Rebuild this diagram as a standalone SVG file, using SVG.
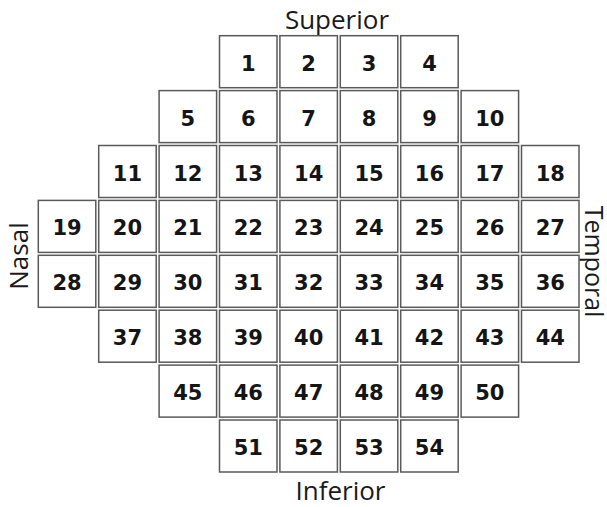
<svg xmlns="http://www.w3.org/2000/svg" width="607" height="507" viewBox="0 0 607 507">
<style>
.cell rect{fill:#fff;stroke:#5a5a5a;stroke-width:1.5}
.cell text{font-family:"DejaVu Sans",Verdana,sans-serif;font-weight:bold;font-size:21px;fill:#151515;text-anchor:middle}
.lbl{font-family:"Open Sans","DejaVu Sans",sans-serif;font-size:26px;fill:#1a1a1a;text-anchor:middle}
</style>
<rect width="607" height="507" fill="#fff"/>
<g id="labels">
<text class="lbl" x="337" y="28.5">Superior</text>
<text class="lbl" x="340.5" y="499.5">Inferior</text>
<text class="lbl" transform="translate(28,256) rotate(-90)">Nasal</text>
<text class="lbl" style="font-size:25px" transform="translate(585,261.5) rotate(90)">Temporal</text>
</g>
<g id="cells">
<g id="c1" class="cell"><rect x="219.5" y="35.7" width="57.5" height="52"/><text x="248.25" y="70.7">1</text></g>
<g id="c2" class="cell"><rect x="279.9" y="35.7" width="57.5" height="52"/><text x="308.65" y="70.7">2</text></g>
<g id="c3" class="cell"><rect x="340.3" y="35.7" width="57.5" height="52"/><text x="369.05" y="70.7">3</text></g>
<g id="c4" class="cell"><rect x="400.7" y="35.7" width="57.5" height="52"/><text x="429.45" y="70.7">4</text></g>

<g id="c5" class="cell"><rect x="159.1" y="90.6" width="57.5" height="52"/><text x="187.85" y="125.6">5</text></g>
<g id="c6" class="cell"><rect x="219.5" y="90.6" width="57.5" height="52"/><text x="248.25" y="125.6">6</text></g>
<g id="c7" class="cell"><rect x="279.9" y="90.6" width="57.5" height="52"/><text x="308.65" y="125.6">7</text></g>
<g id="c8" class="cell"><rect x="340.3" y="90.6" width="57.5" height="52"/><text x="369.05" y="125.6">8</text></g>
<g id="c9" class="cell"><rect x="400.7" y="90.6" width="57.5" height="52"/><text x="429.45" y="125.6">9</text></g>
<g id="c10" class="cell"><rect x="461.1" y="90.6" width="57.5" height="52"/><text x="489.85" y="125.6">10</text></g>

<g id="c11" class="cell"><rect x="98.7" y="145.5" width="57.5" height="52"/><text x="127.45" y="180.5">11</text></g>
<g id="c12" class="cell"><rect x="159.1" y="145.5" width="57.5" height="52"/><text x="187.85" y="180.5">12</text></g>
<g id="c13" class="cell"><rect x="219.5" y="145.5" width="57.5" height="52"/><text x="248.25" y="180.5">13</text></g>
<g id="c14" class="cell"><rect x="279.9" y="145.5" width="57.5" height="52"/><text x="308.65" y="180.5">14</text></g>
<g id="c15" class="cell"><rect x="340.3" y="145.5" width="57.5" height="52"/><text x="369.05" y="180.5">15</text></g>
<g id="c16" class="cell"><rect x="400.7" y="145.5" width="57.5" height="52"/><text x="429.45" y="180.5">16</text></g>
<g id="c17" class="cell"><rect x="461.1" y="145.5" width="57.5" height="52"/><text x="489.85" y="180.5">17</text></g>
<g id="c18" class="cell"><rect x="521.5" y="145.5" width="57.5" height="52"/><text x="550.25" y="180.5">18</text></g>

<g id="c19" class="cell"><rect x="38.3" y="200.4" width="57.5" height="52"/><text x="67.05" y="235.4">19</text></g>
<g id="c20" class="cell"><rect x="98.7" y="200.4" width="57.5" height="52"/><text x="127.45" y="235.4">20</text></g>
<g id="c21" class="cell"><rect x="159.1" y="200.4" width="57.5" height="52"/><text x="187.85" y="235.4">21</text></g>
<g id="c22" class="cell"><rect x="219.5" y="200.4" width="57.5" height="52"/><text x="248.25" y="235.4">22</text></g>
<g id="c23" class="cell"><rect x="279.9" y="200.4" width="57.5" height="52"/><text x="308.65" y="235.4">23</text></g>
<g id="c24" class="cell"><rect x="340.3" y="200.4" width="57.5" height="52"/><text x="369.05" y="235.4">24</text></g>
<g id="c25" class="cell"><rect x="400.7" y="200.4" width="57.5" height="52"/><text x="429.45" y="235.4">25</text></g>
<g id="c26" class="cell"><rect x="461.1" y="200.4" width="57.5" height="52"/><text x="489.85" y="235.4">26</text></g>
<g id="c27" class="cell"><rect x="521.5" y="200.4" width="57.5" height="52"/><text x="550.25" y="235.4">27</text></g>

<g id="c28" class="cell"><rect x="38.3" y="255.3" width="57.5" height="52"/><text x="67.05" y="290.3">28</text></g>
<g id="c29" class="cell"><rect x="98.7" y="255.3" width="57.5" height="52"/><text x="127.45" y="290.3">29</text></g>
<g id="c30" class="cell"><rect x="159.1" y="255.3" width="57.5" height="52"/><text x="187.85" y="290.3">30</text></g>
<g id="c31" class="cell"><rect x="219.5" y="255.3" width="57.5" height="52"/><text x="248.25" y="290.3">31</text></g>
<g id="c32" class="cell"><rect x="279.9" y="255.3" width="57.5" height="52"/><text x="308.65" y="290.3">32</text></g>
<g id="c33" class="cell"><rect x="340.3" y="255.3" width="57.5" height="52"/><text x="369.05" y="290.3">33</text></g>
<g id="c34" class="cell"><rect x="400.7" y="255.3" width="57.5" height="52"/><text x="429.45" y="290.3">34</text></g>
<g id="c35" class="cell"><rect x="461.1" y="255.3" width="57.5" height="52"/><text x="489.85" y="290.3">35</text></g>
<g id="c36" class="cell"><rect x="521.5" y="255.3" width="57.5" height="52"/><text x="550.25" y="290.3">36</text></g>

<g id="c37" class="cell"><rect x="98.7" y="310.2" width="57.5" height="52"/><text x="127.45" y="345.2">37</text></g>
<g id="c38" class="cell"><rect x="159.1" y="310.2" width="57.5" height="52"/><text x="187.85" y="345.2">38</text></g>
<g id="c39" class="cell"><rect x="219.5" y="310.2" width="57.5" height="52"/><text x="248.25" y="345.2">39</text></g>
<g id="c40" class="cell"><rect x="279.9" y="310.2" width="57.5" height="52"/><text x="308.65" y="345.2">40</text></g>
<g id="c41" class="cell"><rect x="340.3" y="310.2" width="57.5" height="52"/><text x="369.05" y="345.2">41</text></g>
<g id="c42" class="cell"><rect x="400.7" y="310.2" width="57.5" height="52"/><text x="429.45" y="345.2">42</text></g>
<g id="c43" class="cell"><rect x="461.1" y="310.2" width="57.5" height="52"/><text x="489.85" y="345.2">43</text></g>
<g id="c44" class="cell"><rect x="521.5" y="310.2" width="57.5" height="52"/><text x="550.25" y="345.2">44</text></g>

<g id="c45" class="cell"><rect x="159.1" y="365.1" width="57.5" height="52"/><text x="187.85" y="400.1">45</text></g>
<g id="c46" class="cell"><rect x="219.5" y="365.1" width="57.5" height="52"/><text x="248.25" y="400.1">46</text></g>
<g id="c47" class="cell"><rect x="279.9" y="365.1" width="57.5" height="52"/><text x="308.65" y="400.1">47</text></g>
<g id="c48" class="cell"><rect x="340.3" y="365.1" width="57.5" height="52"/><text x="369.05" y="400.1">48</text></g>
<g id="c49" class="cell"><rect x="400.7" y="365.1" width="57.5" height="52"/><text x="429.45" y="400.1">49</text></g>
<g id="c50" class="cell"><rect x="461.1" y="365.1" width="57.5" height="52"/><text x="489.85" y="400.1">50</text></g>

<g id="c51" class="cell"><rect x="219.5" y="420" width="57.5" height="52"/><text x="248.25" y="455">51</text></g>
<g id="c52" class="cell"><rect x="279.9" y="420" width="57.5" height="52"/><text x="308.65" y="455">52</text></g>
<g id="c53" class="cell"><rect x="340.3" y="420" width="57.5" height="52"/><text x="369.05" y="455">53</text></g>
<g id="c54" class="cell"><rect x="400.7" y="420" width="57.5" height="52"/><text x="429.45" y="455">54</text></g>
</g>
<g id="connectors"/>
</svg>
